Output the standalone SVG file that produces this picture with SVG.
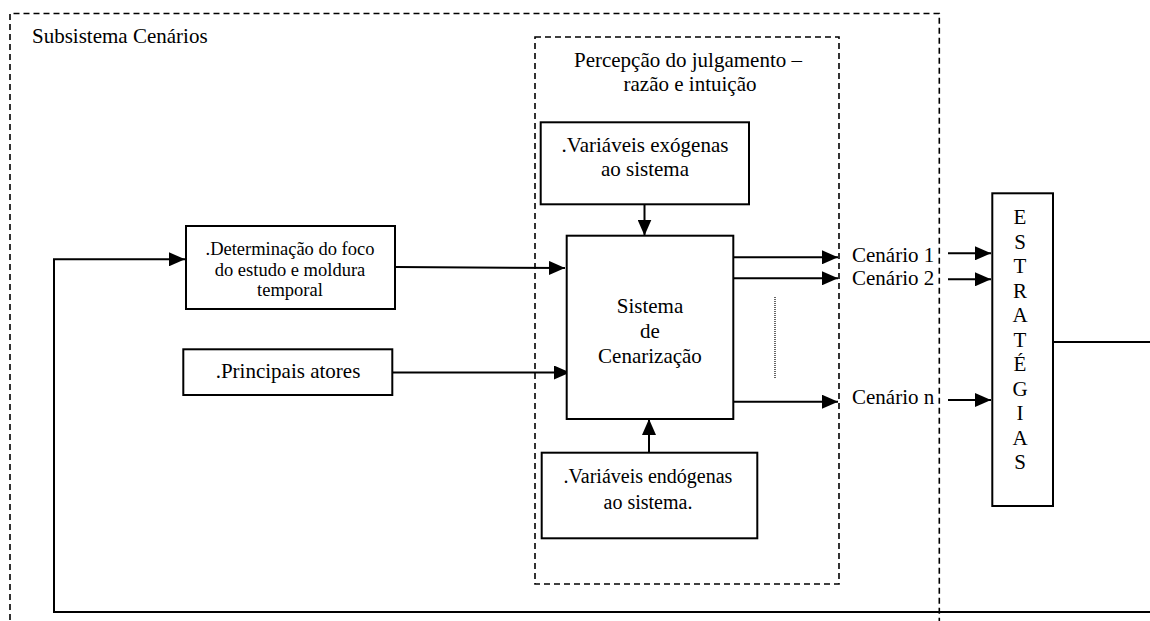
<svg xmlns="http://www.w3.org/2000/svg" width="1150" height="621" viewBox="0 0 1150 621">
  <style>
    .bg { fill: #ffffff; }
    .box { fill: #ffffff; stroke: #000000; stroke-width: 2; }
    .dash { fill: none; stroke: #000000; stroke-width: 1.6; stroke-dasharray: 6 4; }
    .wire { fill: none; stroke: #000000; stroke-width: 2; }
    .dots { fill: none; stroke: #000000; stroke-width: 1.2; stroke-dasharray: 1 1; }
    text { font-family: 'Liberation Serif', Tinos, 'Times New Roman', 'DejaVu Serif', serif; font-size: 21px; fill: #000000; }
    .c { text-anchor: middle; }
    .small { font-size: 18.5px; }
    .mid { font-size: 20px; }
  </style>
  <defs>
    <marker id="arrow" markerUnits="userSpaceOnUse" markerWidth="16" markerHeight="14" refX="16" refY="7" orient="auto">
      <path d="M0,0 L16,7 L0,14 Z" fill="#000000"/>
    </marker>
  </defs>

  <rect class="bg" x="0" y="0" width="1150" height="621"/>

  <g font-family="Liberation Serif, serif">
  <!-- subsystem frames -->
  <g id="subsistema">
    <path class="dash" d="M10,640 V13.5 H939.3 V640"/>
    <text x="32" y="43">Subsistema Cenários</text>
  </g>
  <g id="percepcao">
    <rect class="dash" x="535" y="37" width="304" height="547"/>
    <text class="c" x="688" y="66.5">Percepção do julgamento –</text>
    <text class="c" x="690" y="91">razão e intuição</text>
  </g>

  <!-- connectors -->
  <g id="connectors">
    <path class="wire" d="M1053,342 H1153 V612 H54 V259.3 H185" marker-end="url(#arrow)"/>
    <path class="wire" d="M395,267 L565,268" marker-end="url(#arrow)"/>
    <path class="wire" d="M392,372.5 H570" marker-end="url(#arrow)"/>
    <path class="wire" d="M644.5,204 V235.5" marker-end="url(#arrow)"/>
    <path class="wire" d="M649,452.7 V419" marker-end="url(#arrow)"/>
    <path class="wire" d="M733,257.3 H838" marker-end="url(#arrow)"/>
    <path class="wire" d="M733,278.3 H838" marker-end="url(#arrow)"/>
    <path class="wire" d="M733,401.7 H838" marker-end="url(#arrow)"/>
    <path class="wire" d="M948,253.3 H991" marker-end="url(#arrow)"/>
    <path class="wire" d="M948,279.3 H991" marker-end="url(#arrow)"/>
    <path class="wire" d="M948,400 H991" marker-end="url(#arrow)"/>
    <path class="dots" d="M775,297 V379"/>
  </g>

  <!-- nodes -->
  <g id="determinacao">
    <rect class="box" x="186" y="226" width="209" height="83"/>
    <text class="c small" x="290" y="255">.Determinação do foco</text>
    <text class="c small" x="290" y="275.7">do estudo e moldura</text>
    <text class="c small" x="290" y="296">temporal</text>
  </g>
  <g id="atores">
    <rect class="box" x="183.3" y="349.3" width="209" height="45.7"/>
    <text class="c" x="288" y="378">.Principais atores</text>
  </g>
  <g id="exogenas">
    <rect class="box" x="540.7" y="122.3" width="208.3" height="82"/>
    <text class="c" x="645" y="151.7">.Variáveis exógenas</text>
    <text class="c" x="645" y="176">ao sistema</text>
  </g>
  <g id="cenarizacao">
    <rect class="box" x="566.7" y="235.7" width="166.6" height="183.3"/>
    <text class="c" x="650" y="313">Sistema</text>
    <text class="c" x="650" y="337.7">de</text>
    <text class="c" x="650" y="362.5">Cenarização</text>
  </g>
  <g id="endogenas">
    <rect class="box" x="541.7" y="452.7" width="215.6" height="85.6"/>
    <text class="c mid" x="648" y="483.3">.Variáveis endógenas</text>
    <text class="c mid" x="648" y="509">ao sistema.</text>
  </g>
  <g id="cenario-1">
    <text x="852" y="261.5">Cenário 1</text>
  </g>
  <g id="cenario-2">
    <text x="852" y="285">Cenário 2</text>
  </g>
  <g id="cenario-n">
    <text x="852" y="404">Cenário n</text>
  </g>
  <g id="estrategias">
    <rect class="box" x="992.3" y="193.3" width="60.7" height="312.7"/>
    <text class="c" x="1020" y="224.3">E</text>
    <text class="c" x="1020" y="248.8">S</text>
    <text class="c" x="1020" y="273.3">T</text>
    <text class="c" x="1020" y="297.8">R</text>
    <text class="c" x="1020" y="322.3">A</text>
    <text class="c" x="1020" y="346.8">T</text>
    <text class="c" x="1020" y="371.3">É</text>
    <text class="c" x="1020" y="395.8">G</text>
    <text class="c" x="1020" y="420.3">I</text>
    <text class="c" x="1020" y="444.8">A</text>
    <text class="c" x="1020" y="469.3">S</text>
  </g>
  </g>
</svg>
